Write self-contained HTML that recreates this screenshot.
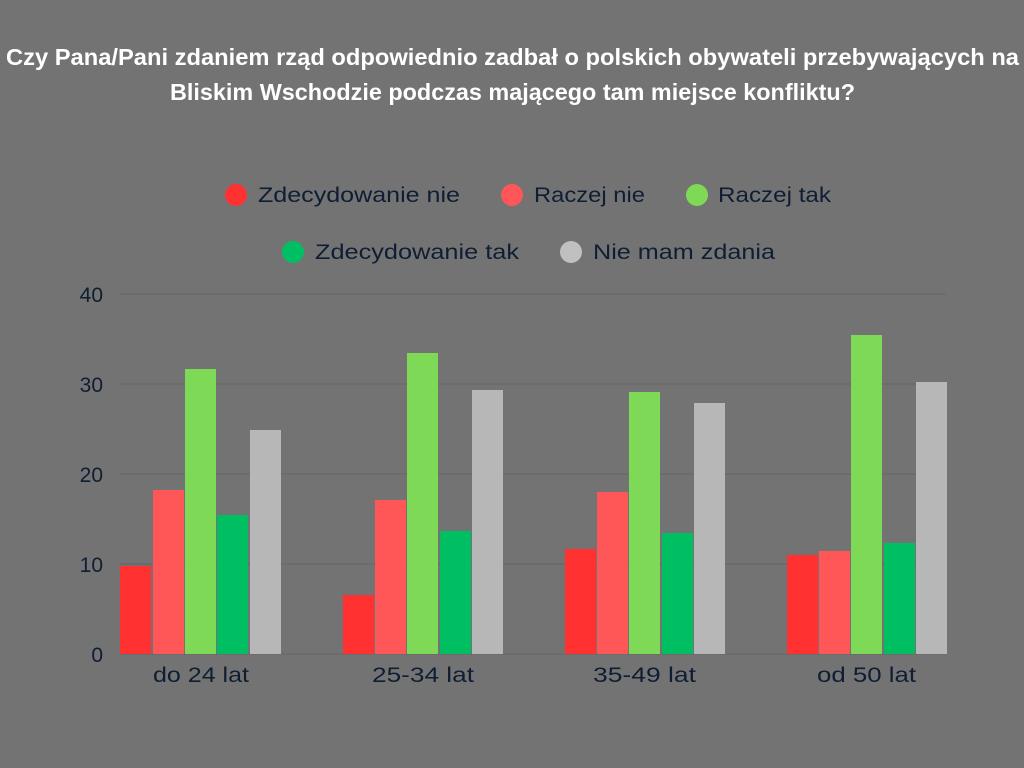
<!DOCTYPE html>
<html><head><meta charset="utf-8"><style>
html,body{margin:0;padding:0;background:#737373;}
svg{display:block;}
</style></head><body>
<svg width="1024" height="768" xmlns="http://www.w3.org/2000/svg" font-family="Liberation Sans, sans-serif">
<rect width="1024" height="768" fill="#737373"/>
<text x="6" y="65" fill="#fff" font-weight="bold" font-size="23" textLength="1013" lengthAdjust="spacingAndGlyphs">Czy Pana/Pani zdaniem rząd odpowiednio zadbał o polskich obywateli przebywających na</text>
<text x="170" y="100" fill="#fff" font-weight="bold" font-size="23" textLength="685" lengthAdjust="spacingAndGlyphs">Bliskim Wschodzie podczas mającego tam miejsce konfliktu?</text>
<g font-size="21" fill="#0f1e33">
<circle cx="236" cy="195" r="11" fill="#ff3131"/><text x="258" y="202" textLength="202" lengthAdjust="spacingAndGlyphs">Zdecydowanie nie</text>
<circle cx="512" cy="195" r="11" fill="#ff5757"/><text x="534" y="202" textLength="111" lengthAdjust="spacingAndGlyphs">Raczej nie</text>
<circle cx="697" cy="195" r="11" fill="#7ed957"/><text x="718" y="202" textLength="113" lengthAdjust="spacingAndGlyphs">Raczej tak</text>
<circle cx="293" cy="252" r="11" fill="#00bf63"/><text x="315" y="259" textLength="204" lengthAdjust="spacingAndGlyphs">Zdecydowanie tak</text>
<circle cx="571" cy="252" r="11" fill="#c0c0c0"/><text x="593" y="259" textLength="182" lengthAdjust="spacingAndGlyphs">Nie mam zdania</text>
</g>
<g stroke="#666666" stroke-width="1">
<line x1="120" x2="946" y1="294" y2="294"/><line x1="120" x2="946" y1="384" y2="384"/>
<line x1="120" x2="946" y1="474" y2="474"/><line x1="120" x2="946" y1="564" y2="564"/>
<line x1="120" x2="946" y1="654" y2="654"/>
</g>
<g font-size="21" fill="#0f1e33" text-anchor="end">
<text x="103" y="302">40</text><text x="103" y="392">30</text><text x="103" y="482">20</text><text x="103" y="572">10</text><text x="103" y="662">0</text>
</g>
<g>
<rect x="120" y="566" width="31" height="88" fill="#ff3131"/>
<rect x="153" y="490" width="31" height="164" fill="#ff5757"/>
<rect x="185" y="369" width="31" height="285" fill="#7ed957"/>
<rect x="217" y="515" width="31" height="139" fill="#00bf63"/>
<rect x="250" y="430" width="31" height="224" fill="#b7b7b7"/>
<rect x="343" y="595" width="31" height="59" fill="#ff3131"/>
<rect x="375" y="500" width="31" height="154" fill="#ff5757"/>
<rect x="407" y="353" width="31" height="301" fill="#7ed957"/>
<rect x="440" y="531" width="31" height="123" fill="#00bf63"/>
<rect x="472" y="390" width="31" height="264" fill="#b7b7b7"/>
<rect x="565" y="549" width="31" height="105" fill="#ff3131"/>
<rect x="597" y="492" width="31" height="162" fill="#ff5757"/>
<rect x="629" y="392" width="31" height="262" fill="#7ed957"/>
<rect x="662" y="533" width="31" height="121" fill="#00bf63"/>
<rect x="694" y="403" width="31" height="251" fill="#b7b7b7"/>
<rect x="787" y="555" width="31" height="99" fill="#ff3131"/>
<rect x="819" y="551" width="31" height="103" fill="#ff5757"/>
<rect x="851" y="335" width="31" height="319" fill="#7ed957"/>
<rect x="884" y="543" width="31" height="111" fill="#00bf63"/>
<rect x="916" y="382" width="31" height="272" fill="#b7b7b7"/>
</g>
<g font-size="21" fill="#0f1e33">
<text x="153" y="682" textLength="96" lengthAdjust="spacingAndGlyphs">do 24 lat</text>
<text x="372" y="682" textLength="102" lengthAdjust="spacingAndGlyphs">25-34 lat</text>
<text x="593" y="682" textLength="103" lengthAdjust="spacingAndGlyphs">35-49 lat</text>
<text x="817" y="682" textLength="99" lengthAdjust="spacingAndGlyphs">od 50 lat</text>
</g>
</svg>
</body></html>
